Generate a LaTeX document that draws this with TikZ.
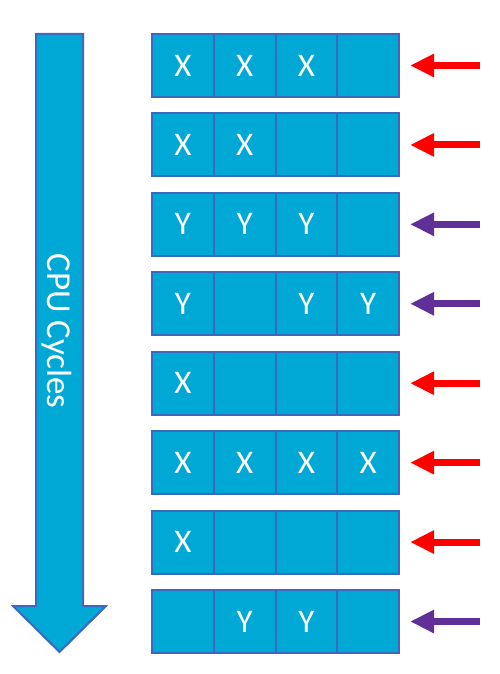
\documentclass[tikz,border=0pt]{standalone}
\usepackage{fontspec}
\setmainfont{Carlito}
\usetikzlibrary{arrows.meta}
\definecolor{cellfill}{RGB}{0,168,214}
\definecolor{cellline}{RGB}{60,105,192}
\definecolor{arred}{RGB}{255,0,0}
\definecolor{arpurple}{RGB}{96,48,152}
\tikzset{
  cell/.style={draw=cellline, fill=cellfill, line width=2pt, minimum width=61.75pt, minimum height=63pt, inner sep=0pt, text=white, font=\fontsize{33}{33}\selectfont, anchor=center},
  ptr/.style={line width=7pt, -{Triangle[length=24pt,width=22pt]}, shorten >=10pt},
}
\begin{document}
\begin{tikzpicture}[x=1pt,y=-1pt]
\useasboundingbox (0,0) rectangle (499,674);
% big down arrow
\draw[draw=cellline, fill=cellfill, line width=2pt, line join=miter]
  (36,34) -- (83,34) -- (83,606) -- (106,606) -- (59.5,652) -- (13,606) -- (36,606) -- cycle;
\node[rotate=-90, text=white, font=\fontsize{35}{35}\selectfont] (lbl) at (57,331) {CPU Cycles};
% rows
\foreach \r/\a/\b/\c/\d/\col in {1/X/X/X//arred, 2/X/X///arred, 3/Y/Y/Y//arpurple, 4/Y//Y/Y/arpurple, 5/X////arred, 6/X/X/X/X/arred, 7/X////arred, 8//Y/Y//arpurple}{
  \pgfmathsetmacro{\yy}{65.5+79.43*(\r-1)}
  \node[cell] (r\r c1) at (183,\yy) {\a};
  \node[cell] (r\r c2) at (244.75,\yy) {\b};
  \node[cell] (r\r c3) at (306.5,\yy) {\c};
  \node[cell] (r\r c4) at (368.25,\yy) {\d};
  \coordinate (s\r) at (480,\yy);
  \draw[ptr, draw=\col, fill=\col] (s\r) -- (r\r c4.east);
}
\end{tikzpicture}
\end{document}
